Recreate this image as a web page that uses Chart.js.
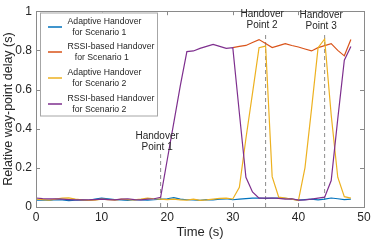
<!DOCTYPE html>
<html>
<head>
<meta charset="utf-8">
<script src="https://cdn.jsdelivr.net/npm/chart.js@4.4.1/dist/chart.umd.min.js"></script>
<style>
  html, body { margin: 0; padding: 0; background: #fff; }
  #wrap { width: 374px; height: 241px; position: relative; }
</style>
</head>
<body>
<div id="wrap"><canvas id="myChart" width="374" height="241"></canvas></div>
<script>
// tempo (s)
const time = [0,1,2,3,4,5,6,7,8,9,10,11,12,13,14,15,16,17,18,19,20,21,22,23,24,
    25,26,27,28,29,30,31,32,33,34,35,36,37,38,39,40,41,42,43,44,45,46,47,48];

const adaptive1 = [0.035,0.036,0.034,0.037,0.036,0.033,0.035,0.036,0.034,0.040,
    0.045,0.042,0.038,0.036,0.034,0.038,0.036,0.035,0.037,0.040,
    0.042,0.048,0.040,0.037,0.036,0.034,0.038,0.036,0.040,0.042,
    0.037,0.040,0.043,0.045,0.046,0.044,0.045,0.046,0.044,0.040,
    0.035,0.038,0.040,0.036,0.040,0.046,0.042,0.038,0.040];

const rssi1Time = [30,31,32,33,34,35,36,37,38,39,40,41,42,43,44,45,46,47,48];
const rssi1 = [0.814,0.820,0.825,0.840,0.855,0.835,0.814,0.824,0.834,0.825,
    0.817,0.807,0.797,0.814,0.824,0.834,0.800,0.772,0.855];

const adaptive2 = [0.040,0.038,0.035,0.040,0.045,0.047,0.040,0.036,0.034,0.035,
    0.040,0.038,0.035,0.040,0.038,0.036,0.040,0.045,0.042,0.040,
    0.038,0.040,0.036,0.035,0.040,0.034,0.036,0.040,0.044,0.045,
    0.041,0.100,0.350,0.580,0.814,0.822,0.155,0.050,0.045,0.040,
    0.033,0.200,0.500,0.814,0.858,0.470,0.152,0.053,0.045];

const rssi2 = [0.046,0.043,0.042,0.041,0.040,0.038,0.036,0.037,0.036,0.038,
    0.040,0.038,0.036,0.040,0.042,0.038,0.036,0.040,0.042,0.050,
    0.240,0.430,0.620,0.794,0.797,0.810,0.820,0.830,0.820,0.810,
    0.814,0.480,0.152,0.077,0.045,0.045,0.046,0.044,0.040,0.042,
    0.035,0.036,0.040,0.045,0.050,0.135,0.450,0.750,0.820];

const seriesNames = [
    ['Adaptive Handover', '  for Scenario 1'],
    ['RSSI-based Handover', '   for Scenario 1'],
    ['Adaptive Handover', '  for Scenario 2'],
    ['RSSI-based Handover', '  for Scenario 2']
];
const seriesColors = ['#0072BD', '#D95319', '#EDB120', '#7E2F8E'];

const handoverTime = [19, 35, 44];
const handoverTop = [0.27, 0.89, 0.88];
const handoverNames = [['Handover', 'Point 1'], ['Handover', 'Point 2'], ['Handover', 'Point 3']];

const xTicks = [0, 10, 20, 30, 40, 50];
const yTicks = [0, 0.2, 0.4, 0.6, 0.8, 1];

const FONT = '"Liberation Sans", Arial, Helvetica, sans-serif';
const AXIS_COLOR = '#8a8a8a';
const TEXT_COLOR = '#262626';

function toPoints(xs, ys) {
    return xs.map((v, i) => ({ x: v, y: ys[i] }));
}

const series = [
    toPoints(time, adaptive1),
    toPoints(rssi1Time, rssi1),
    toPoints(time, adaptive2),
    toPoints(time, rssi2)
];

const datasets = series.map((pts, i) => ({
    label: seriesNames[i].join(' '),
    data: pts,
    borderColor: seriesColors[i],
    borderWidth: 1.2,
    pointRadius: 0,
    tension: 0,
    fill: false,
    order: 3 - i
}));

handoverTime.forEach((t, i) => {
    datasets.push({
        label: 'handover' + (i + 1),
        data: [{ x: t, y: 0 }, { x: t, y: handoverTop[i] }],
        borderColor: '#8c8c8c',
        borderWidth: 1,
        borderDash: [4, 3],
        pointRadius: 0,
        fill: false,
        order: 10
    });
});

// riquadro, tacche interne, etichette e legenda
const decorations = {
    id: 'decorations',
    afterDraw(chart) {
        const ctx = chart.ctx;
        const a = chart.chartArea;
        const xs = chart.scales.x;
        const ys = chart.scales.y;
        ctx.save();

        // box
        ctx.strokeStyle = AXIS_COLOR;
        ctx.lineWidth = 1;
        ctx.strokeRect(Math.round(a.left) + 0.5, Math.round(a.top) + 0.5,
            Math.round(a.right - a.left), Math.round(a.bottom - a.top));

        // tacche verso l'interno
        const tl = 4;
        ctx.beginPath();
        xTicks.forEach(v => {
            const px = Math.round(xs.getPixelForValue(v)) + 0.5;
            ctx.moveTo(px, a.bottom); ctx.lineTo(px, a.bottom - tl);
            ctx.moveTo(px, a.top); ctx.lineTo(px, a.top + tl);
        });
        yTicks.forEach(v => {
            const py = Math.round(ys.getPixelForValue(v)) + 0.5;
            ctx.moveTo(a.left, py); ctx.lineTo(a.left + tl, py);
            ctx.moveTo(a.right, py); ctx.lineTo(a.right - tl, py);
        });
        ctx.stroke();

        // etichette handover
        ctx.fillStyle = TEXT_COLOR;
        ctx.font = '10px ' + FONT;
        ctx.textAlign = 'center';
        ctx.textBaseline = 'middle';
        const labelY = [[136, 147], [14.5, 25.5], [15.5, 26.5]];
        handoverTime.forEach((t, i) => {
            const cx = xs.getPixelForValue(t) - 3.5;
            ctx.fillText(handoverNames[i][0], cx, labelY[i][0]);
            ctx.fillText(handoverNames[i][1], cx, labelY[i][1]);
        });

        // legenda
        const lx = 40, ly = 12.5, lw = 117, lh = 103;
        ctx.fillStyle = '#fff';
        ctx.fillRect(lx, ly, lw, lh);
        ctx.strokeStyle = '#a6a6a6';
        ctx.lineWidth = 1;
        ctx.strokeRect(lx + 0.5, ly + 0.5, lw, lh);
        ctx.font = '8.7px ' + FONT;
        ctx.textAlign = 'left';
        const rowMid = [27, 52, 78, 104];
        seriesNames.forEach((lines, i) => {
            const my = rowMid[i];
            ctx.strokeStyle = seriesColors[i];
            ctx.lineWidth = 1.5;
            ctx.beginPath();
            ctx.moveTo(48, my); ctx.lineTo(62, my);
            ctx.stroke();
            ctx.fillStyle = TEXT_COLOR;
            ctx.fillText(lines[0], 67.5, my - 5.3);
            ctx.fillText(lines[1], 67.5, my + 5.3);
        });

        ctx.restore();
    }
};

new Chart(
    document.getElementById('myChart'),
    {
        type: 'line',
        data: { datasets: datasets },
        options: {
            responsive: false,
            animation: false,
            devicePixelRatio: 1,
            layout: { padding: { top: 6, right: 10, left: 0, bottom: 0 } },
            plugins: {
                legend: { display: false },
                tooltip: { enabled: false }
            },
            scales: {
                x: {
                    type: 'linear',
                    min: 0,
                    max: 50,
                    afterBuildTicks: s => { s.ticks = xTicks.map(v => ({ value: v })); },
                    afterFit: s => { s.height = 34; },
                    grid: { display: false, drawTicks: false },
                    border: { display: false },
                    ticks: {
                        padding: 3,
                        color: TEXT_COLOR,
                        font: { family: FONT, size: 12 },
                        maxRotation: 0
                    },
                    title: {
                        display: true,
                        text: 'Time (s)',
                        color: TEXT_COLOR,
                        font: { family: FONT, size: 13 },
                        padding: { top: 0, bottom: 1 }
                    }
                },
                y: {
                    min: 0,
                    max: 1,
                    afterBuildTicks: s => { s.ticks = yTicks.map(v => ({ value: v })); },
                    afterFit: s => { s.width = 36; },
                    grid: { display: false, drawTicks: false },
                    border: { display: false },
                    ticks: {
                        padding: 4,
                        color: TEXT_COLOR,
                        font: { family: FONT, size: 12 },
                        callback: v => String(+v.toFixed(1))
                    },
                    title: {
                        display: true,
                        text: 'Relative way-point delay (s)',
                        color: TEXT_COLOR,
                        font: { family: FONT, size: 12.5 },
                        padding: { top: 1, bottom: 0 }
                    }
                }
            }
        },
        plugins: [decorations]
    }
);
</script>
</body>
</html>
